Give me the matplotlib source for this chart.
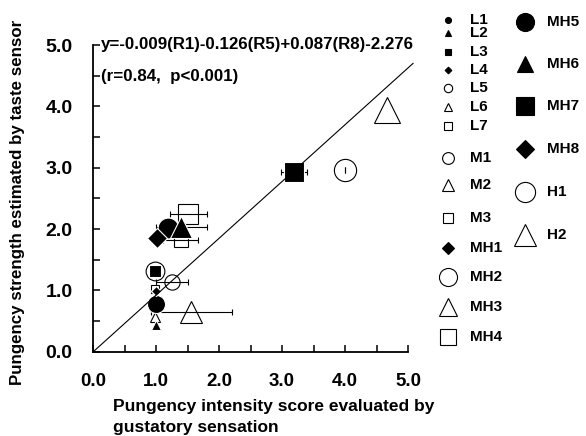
import numpy as np
import matplotlib
matplotlib.use("Agg")
import matplotlib.pyplot as plt

plt.rcParams['font.family'] = ['Liberation Sans', 'DejaVu Sans']
plt.rcParams['font.weight'] = 'bold'

# sample groups (L = low, M = medium, MH = medium-high, H = high pungency)
samples = ['L1', 'L2', 'L3', 'L4', 'L5', 'L6', 'L7',
           'M1', 'M2', 'M3',
           'MH1', 'MH2', 'MH3', 'MH4', 'MH5', 'MH6', 'MH7', 'MH8',
           'H1', 'H2']

# sensory score (x), its error, and sensor estimate (y)
sensory_score = [0.99, 0.99, 0.98, 0.98, 0.98, 0.99, 0.98,
                 1.25, 0.98, 1.39,
                 0.99, 0.98, 1.56, 1.51, 1.19, 1.40, 3.19, 1.01,
                 4.00, 4.67]
sensory_err = [0.0, 0.0, 0.0, 0.0, 0.0, 0.0, 0.0,
               0.26, 0.0, 0.28,
               0.0, 0.0, 0.64, 0.29, 0.0, 0.40, 0.20, 0.0,
               0.005, 0.0]
sensor_est = [0.77, 0.44, 1.31, 0.99, 1.31, 0.44, 1.03,
              1.14, 0.57, 1.82,
              0.99, 1.31, 0.65, 2.25, 2.01, 2.03, 2.93, 1.85,
              2.96, 3.94]

# regression line end point
line_x = [0.0, 5.08]
line_y = [0.0, 4.70]

equation = 'y=-0.009(R1)-0.126(R5)+0.087(R8)-2.276'
stats = '(r=0.84,  p<0.001)'

# marker, filled, size on plot, size in key
styles = {
    'L1': ('o', True, 13, 4.3), 'L2': ('^', True, 7, 4.5),
    'L3': ('s', True, 8, 4.8), 'L4': ('D', True, 4, 3.4),
    'L5': ('o', False, 5, 6), 'L6': ('^', False, 5, 6),
    'L7': ('s', False, 6, 5.3),
    'M1': ('o', False, 11, 8.5), 'M2': ('^', False, 7.5, 8.5),
    'M3': ('s', False, 10, 7),
    'MH1': ('D', True, 5, 6), 'MH2': ('o', False, 13.5, 13),
    'MH3': ('^', False, 15.5, 13), 'MH4': ('s', False, 15, 12),
    'MH5': ('o', True, 15, 13), 'MH6': ('^', True, 15.5, 12),
    'MH7': ('s', True, 14.5, 13), 'MH8': ('D', True, 10.5, 8.7),
    'H1': ('o', False, 16, 14.5), 'H2': ('^', False, 19, 16),
}

fig = plt.figure(figsize=(5.86, 4.36), dpi=100)
ax = fig.add_axes([93.3 / 586, (436 - 351.7) / 436, (408 - 93.3) / 586, (351.7 - 45) / 436])

for name, x, xe, y in zip(samples, sensory_score, sensory_err, sensor_est):
    m, filled, ms, _ = styles[name]
    if xe > 0:
        ax.errorbar(x, y, xerr=xe, fmt='none', ecolor='black', elinewidth=0.8,
                    capsize=2.5, capthick=0.8, zorder=2)
    if filled:
        ax.plot(x, y, marker=m, ms=ms, mfc='black', mec='white', mew=0.8,
                ls='none', zorder=4, clip_on=False)
    else:
        ax.plot(x, y, marker=m, ms=ms, mfc='none', mec='black', mew=0.8,
                ls='none', zorder=3, clip_on=False)

ax.plot(line_x, line_y, color='black', lw=0.8, zorder=5, clip_on=False)

ax.text(0.12, 5.0, equation, fontsize=12.2, fontweight='bold', va='center', ha='left')
ax.text(0.12, 4.48, stats, fontsize=12.2, fontweight='bold', va='center', ha='left')

ticks = np.arange(0, 5.01, 0.5)
tick_labels = ['%.1f' % v if v % 1 == 0 else '' for v in ticks]
ax.set_xlim(0, 5)
ax.set_ylim(0, 5)
ax.set_xticks(ticks)
ax.set_yticks(ticks)
ax.set_xticklabels(tick_labels)
ax.set_yticklabels(tick_labels)
ax.tick_params(direction='in', length=5, width=1.1, labelsize=14)
ax.tick_params(axis='x', pad=15, labelsize=13.5)
ax.tick_params(axis='y', pad=15)
for s in ['top', 'right']:
    ax.spines[s].set_visible(False)
for s in ['left', 'bottom']:
    ax.spines[s].set_linewidth(1.3)

fig.text(113 / 586, 1 - 410.5 / 436, 'Pungency intensity score evaluated by',
         fontsize=12.5, fontweight='bold', ha='left', va='baseline')
fig.text(113 / 586, 1 - 432 / 436, 'gustatory sensation',
         fontsize=12.5, fontweight='bold', ha='left', va='baseline')
fig.text(18 / 586, 1 - 202 / 436, 'Pungency strength estimated by taste sensor',
         fontsize=12.2, fontweight='bold', rotation=90, ha='center', va='center')

# key drawn in figure pixel space
key = fig.add_axes([0, 0, 1, 1], zorder=-1)
key.set_xlim(0, 586)
key.set_ylim(436, 0)
key.axis('off')
col1 = samples[:14]
col1_y = [20, 33, 52, 70, 88, 107, 126, 158, 185, 218, 248, 277, 307, 337]
col2 = samples[14:]
col2_y = [22, 64, 106, 149, 192, 235]
for names, ys, mx, tx in [(col1, col1_y, 448, 470), (col2, col2_y, 525, 547)]:
    for name, yy in zip(names, ys):
        m, filled, _, ks = styles[name]
        key.plot(mx, yy, marker=m, ms=ks, mfc='black' if filled else 'none',
                 mec='black', mew=0.8, ls='none')
        key.text(tx, yy, name, fontsize=11, fontweight='bold', va='center', ha='left')

fig.savefig('out.png', dpi=100)
